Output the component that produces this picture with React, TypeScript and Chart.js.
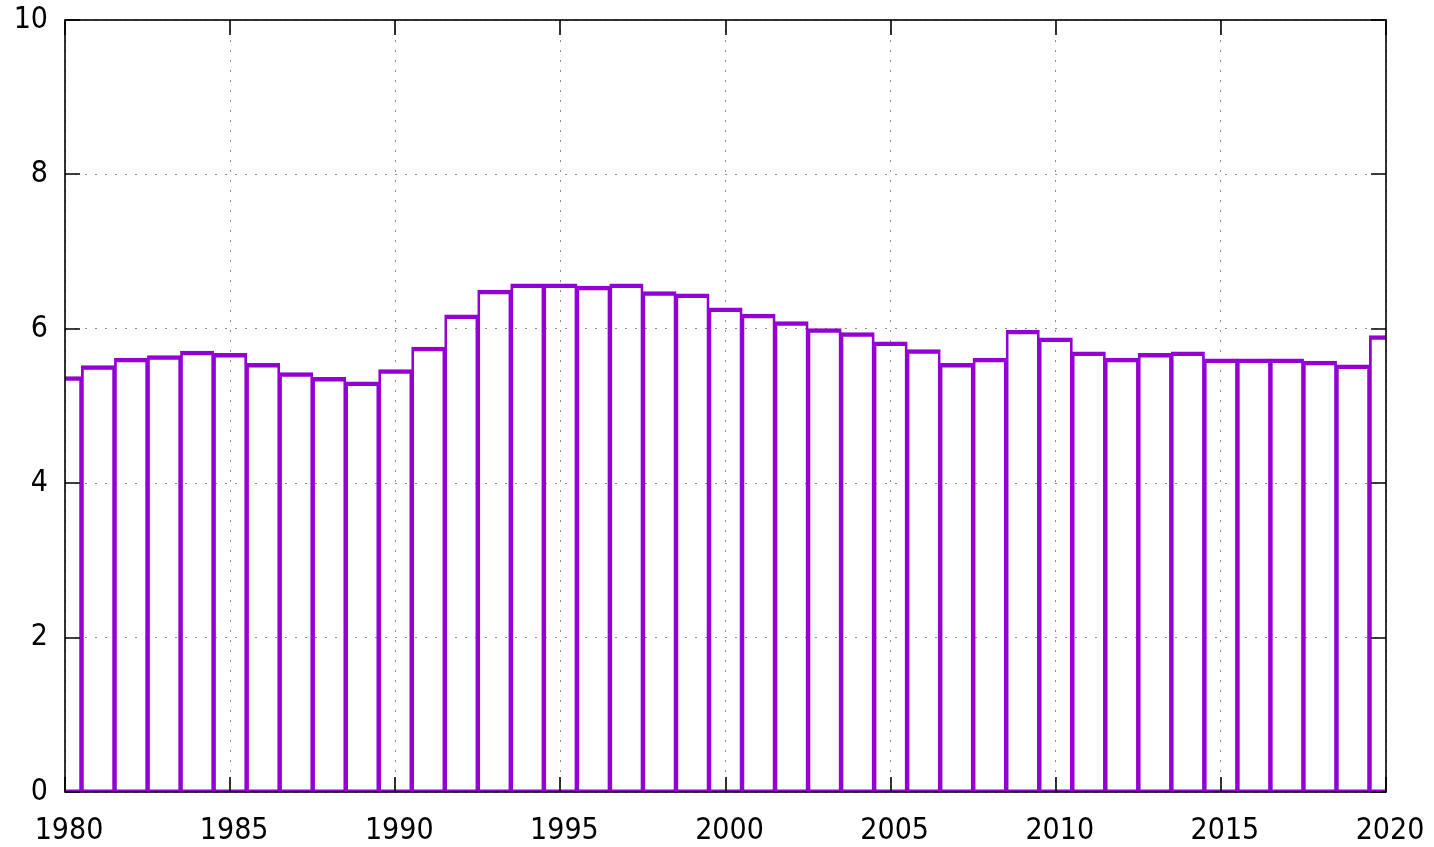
import React, { useEffect, useRef } from "react";
import { Chart, registerables } from "chart.js";

Chart.register(...registerables);

const years: number[] = [
  1980, 1981, 1982, 1983, 1984, 1985, 1986, 1987, 1988, 1989,
  1990, 1991, 1992, 1993, 1994, 1995, 1996, 1997, 1998, 1999,
  2000, 2001, 2002, 2003, 2004, 2005, 2006, 2007, 2008, 2009,
  2010, 2011, 2012, 2013, 2014, 2015, 2016, 2017, 2018, 2019, 2020,
];
const values: number[] = [
  5.38, 5.52, 5.62, 5.65, 5.71, 5.68, 5.55, 5.43, 5.37, 5.31,
  5.47, 5.76, 6.18, 6.5, 6.58, 6.58, 6.55, 6.58, 6.48, 6.45,
  6.27, 6.19, 6.09, 6.0, 5.95, 5.83, 5.73, 5.55, 5.62, 5.98,
  5.88, 5.7, 5.62, 5.68, 5.7, 5.61, 5.61, 5.61, 5.58, 5.53, 5.91,
];
const xTicks: number[] = [1980, 1985, 1990, 1995, 2000, 2005, 2010, 2015, 2020];
const yTicks: number[] = [0, 2, 4, 6, 8, 10];

const FONT = "'DejaVu Sans Condensed', 'DejaVu Sans', sans-serif";

const framePlugin = {
  id: "gnuplotFrame",
  afterDatasetsDraw(chart: any) {
    const { ctx, chartArea: a, scales } = chart;
    const xs = scales.x;
    const ys = scales.y;
    const tl = 15;
    ctx.save();
    ctx.strokeStyle = "#000";
    ctx.lineWidth = 1.6;
    ctx.beginPath();
    for (const t of xTicks) {
      const px = Math.round(xs.getPixelForValue(t));
      ctx.moveTo(px, a.bottom);
      ctx.lineTo(px, a.bottom - tl);
      ctx.moveTo(px, a.top);
      ctx.lineTo(px, a.top + tl);
    }
    for (const t of yTicks) {
      const py = Math.round(ys.getPixelForValue(t));
      ctx.moveTo(a.left, py);
      ctx.lineTo(a.left + tl, py);
      ctx.moveTo(a.right, py);
      ctx.lineTo(a.right - tl, py);
    }
    ctx.stroke();
    ctx.strokeRect(a.left, a.top, a.right - a.left, a.bottom - a.top);
    ctx.restore();
  },
};

export default function App() {
  const ref = useRef<HTMLCanvasElement | null>(null);
  useEffect(() => {
    if (!ref.current) return;
    const chart = new Chart(ref.current, {
      type: "bar",
      data: {
        datasets: [
          {
            data: years.map((y, i) => ({ x: y, y: values[i] })),
            backgroundColor: "rgba(0,0,0,0)",
            borderColor: "#9400D3",
            borderWidth: { top: 3.5, left: 1.75, right: 1.75, bottom: 1.5 },
            borderSkipped: false,
            inflateAmount: 0.5,
            barPercentage: 1,
            categoryPercentage: 1,
            clip: 0,
          } as any,
        ],
      },
      options: {
        animation: false,
        responsive: false,
        maintainAspectRatio: false,
        layout: { padding: { left: 0, right: 48, top: 20, bottom: 0 } },
        plugins: { legend: { display: false }, tooltip: { enabled: false } },
        scales: {
          x: {
            type: "linear",
            min: 1980,
            max: 2020,
            offset: false,
            afterFit: (s: any) => {
              s.height = 55;
              s.paddingLeft = 0;
              s.paddingRight = 0;
              s.paddingTop = 0;
              s.paddingBottom = 0;
            },
            afterBuildTicks: (s: any) => { s.ticks = xTicks.map((v) => ({ value: v })); },
            ticks: {
              stepSize: 5,
              padding: 21,
              labelOffset: 4,
              color: "#000",
              font: { family: FONT, size: 30 },
              maxRotation: 0,
              autoSkip: false,
              callback: (v: any) => String(v),
            },
            grid: { offset: false, drawTicks: false, color: "#8c8c8c", lineWidth: 1 },
            border: { display: false, dash: [2, 8] },
          } as any,
          y: {
            type: "linear",
            min: 0,
            max: 10,
            afterFit: (s: any) => {
              s.width = 65;
              s.paddingLeft = 0;
              s.paddingRight = 0;
              s.paddingTop = 0;
              s.paddingBottom = 0;
            },
            afterBuildTicks: (s: any) => { s.ticks = yTicks.map((v) => ({ value: v })); },
            ticks: {
              stepSize: 2,
              padding: 17,
              color: "#000",
              font: { family: FONT, size: 30 },
              callback: (v: any) => String(v),
            },
            grid: { drawTicks: false, color: "#8c8c8c", lineWidth: 1 },
            border: { display: false, dash: [2, 8] },
          } as any,
        },
      },
      plugins: [framePlugin],
    });
    return () => chart.destroy();
  }, []);
  return (
    <div style={{ position: "fixed", left: 0, top: 0, width: 1434, height: 847, background: "#fff" }}>
      <canvas ref={ref} width={1434} height={847} style={{ width: 1434, height: 847 }} />
    </div>
  );
}
